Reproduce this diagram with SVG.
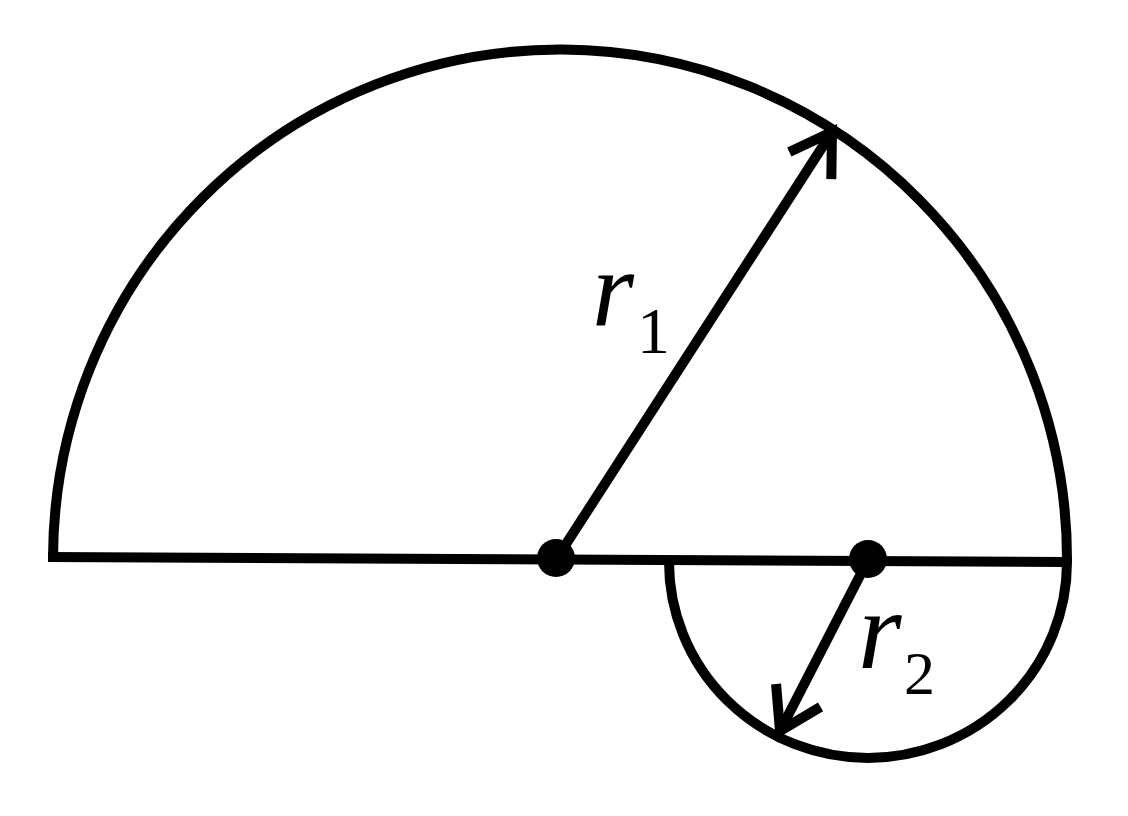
<svg xmlns="http://www.w3.org/2000/svg" width="1128" height="816" viewBox="0 0 1128 816">
<style>
.s{fill:none;stroke:#000;stroke-width:10}
.v{font-family:'Liberation Serif','Times New Roman',Times,serif;font-style:italic;fill:#000}
.n{font-family:'Liberation Serif','Times New Roman',Times,serif;fill:#000}
</style>
<defs>
<marker id="ah" markerUnits="userSpaceOnUse" viewBox="-60 -40 80 80" markerWidth="80" markerHeight="80" refX="0" refY="0" orient="auto" overflow="visible">
<path d="M-40,-25 L0,0 L-40,25" fill="none" stroke="#000" stroke-width="10" stroke-linejoin="miter"/>
</marker>
</defs>
<rect width="1128" height="816" fill="#fff"/>
<g id="shapes">
<path class="s" d="M53,557 A507,510 0 0 1 1067,562"/>
<path class="s" d="M669,562 A199,196 0 0 0 1067,562"/>
<line class="s" x1="48" y1="557" x2="1067" y2="562"/>
</g>
<g id="connectors">
<line class="s" x1="557" y1="558" x2="832" y2="132" marker-end="url(#ah)"/>
<line class="s" x1="868" y1="560" x2="780" y2="731" marker-end="url(#ah)"/>
</g>
<g id="center1"><circle cx="556" cy="558" r="19" fill="#000"/></g>
<g id="center2"><circle cx="868" cy="559" r="19" fill="#000"/></g>
<g id="label-r1">
<text class="v" x="592" y="325" font-size="108">r</text>
<text class="n" x="637" y="353" font-size="66">1</text>
</g>
<g id="label-r2">
<text class="v" x="858" y="668" font-size="112">r</text>
<text class="n" x="904" y="694" font-size="62">2</text>
</g>
</svg>
